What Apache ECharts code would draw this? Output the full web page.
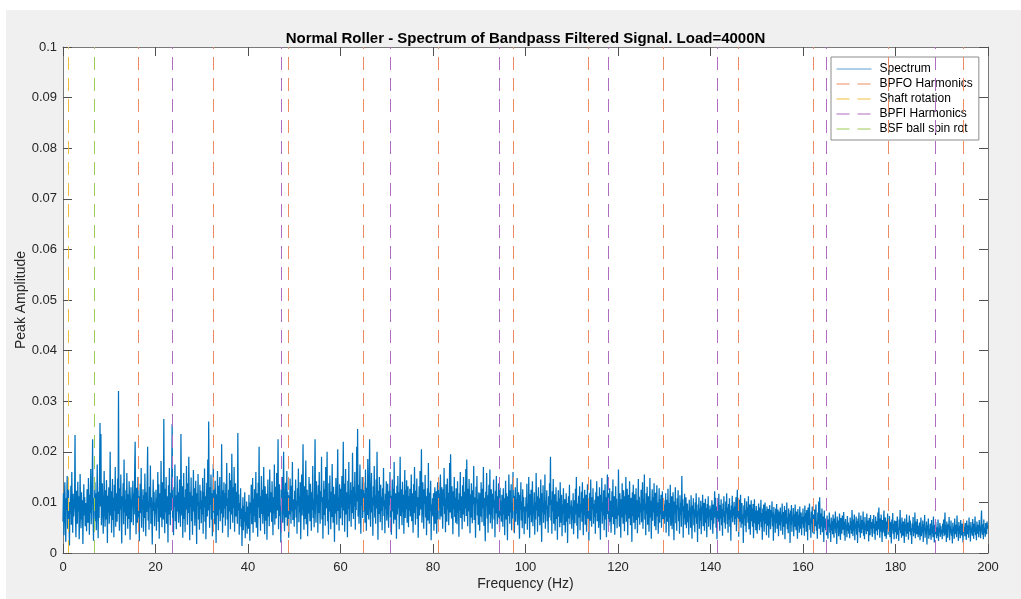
<!DOCTYPE html>
<html>
<head>
<meta charset="utf-8">
<script src="https://cdn.jsdelivr.net/npm/echarts@6/dist/echarts.min.js"></script>
<style>
  html, body { margin: 0; padding: 0; background: #ffffff; }
  #fig { position: absolute; left: 6px; top: 10px; width: 1015px; height: 589px; }
</style>
</head>
<body>
<div id="fig"></div>
<script>
// Frequency resolution of the spectrum (Hz per bin); bin k sits at k * FREQ_STEP_HZ
const FREQ_STEP_HZ = 0.1;

// Peak amplitude per bin, in units of 1e-4 (one row = 5 Hz)
const amplitudeE4 = [
  62, 118, 35, 96, 140, 71, 22, 108, 85, 152, 48, 90, 127, 64, 15, 101, 78, 133, 56, 160, 94, 40, 117, 72, 88, 105, 233, 67, 31, 123, 98, 58, 141, 82, 112, 27, 76, 156, 93, 49, 120, 66, 104, 18, 87, 136, 74, 110, 53, 99,
  81, 43, 126, 92, 60, 148, 103, 36, 115, 79, 166, 57, 95, 132, 225, 70, 24, 108, 88, 140, 63, 118, 45, 97, 175, 84, 29, 121, 69, 150, 257, 92, 235, 55, 110, 138, 76, 38, 101, 162, 87, 52, 124, 66, 144, 95, 20, 113, 80, 130,
  58, 97, 200, 74, 122, 40, 88, 146, 65, 109, 31, 135, 83, 170, 52, 118, 91, 62, 147, 77, 320, 99, 44, 128, 86, 155, 68, 19, 112, 94, 138, 57, 185, 80, 106, 35, 124, 73, 158, 90, 48, 116, 67, 142, 101, 26, 87, 130, 61, 104,
  92, 143, 55, 118, 76, 164, 220, 85, 37, 129, 98, 60, 150, 71, 112, 23, 95, 137, 79, 168, 50, 104, 88, 126, 42, 114, 69, 157, 93, 33, 120, 81, 140, 210, 64, 102, 46, 131, 90, 173, 58, 110, 74, 17, 96, 145, 83, 121, 53, 100,
  77, 125, 44, 108, 89, 160, 62, 136, 28, 97, 118, 70, 182, 86, 51, 140, 104, 66, 265, 93, 39, 127, 80, 150, 58, 112, 95, 21, 134, 76, 168, 100, 55, 119, 84, 142, 255, 68, 108, 35, 130, 91, 175, 63, 114, 47, 98, 152, 82, 120,
  60, 102, 145, 88, 52, 235, 116, 74, 132, 30, 95, 158, 67, 110, 41, 126, 86, 172, 99, 56, 138, 79, 190, 105, 25, 120, 91, 149, 63, 113, 36, 97, 164, 82, 128, 54, 107, 143, 71, 18, 118, 93, 156, 66, 101, 46, 135, 87, 123, 59,
  104, 76, 148, 38, 121, 90, 167, 62, 112, 27, 98, 139, 72, 185, 84, 260, 108, 50, 130, 95, 155, 66, 118, 33, 102, 176, 80, 126, 57, 143, 92, 20, 116, 74, 162, 99, 45, 133, 86, 150, 63, 110, 78, 215, 96, 40, 124, 70, 140, 88,
  118, 54, 137, 93, 178, 66, 108, 31, 125, 82, 158, 101, 47, 144, 76, 196, 113, 60, 130, 89, 170, 42, 105, 138, 72, 121, 95, 58, 237, 84, 116, 36, 99, 67, 128, 52, 88, 14, 74, 110, 45, 93, 62, 120, 29, 81, 54, 102, 38, 70,
  92, 48, 115, 66, 24, 100, 78, 135, 57, 86, 148, 40, 107, 73, 126, 61, 95, 160, 50, 118, 83, 32, 139, 90, 210, 69, 112, 44, 98, 152, 77, 125, 58, 103, 170, 85, 37, 132, 94, 64, 117, 26, 88, 145, 72, 108, 53, 165, 97, 80,
  120, 62, 142, 91, 35, 110, 78, 175, 56, 131, 99, 68, 158, 84, 115, 225, 47, 104, 136, 73, 92, 21, 126, 88, 150, 60, 117, 200, 81, 43, 109, 139, 70, 95, 162, 54, 121, 86, 30, 114, 76, 147, 98, 58, 133, 82, 180, 65, 106, 90,
  52, 123, 86, 145, 70, 103, 38, 128, 94, 167, 61, 112, 80, 140, 27, 99, 155, 74, 118, 215, 89, 46, 132, 67, 108, 183, 57, 96, 125, 33, 114, 78, 150, 92, 63, 137, 101, 44, 120, 85, 172, 69, 106, 51, 130, 225, 88, 60, 142, 97,
  115, 40, 134, 79, 160, 93, 58, 122, 101, 190, 66, 110, 28, 97, 143, 75, 126, 54, 170, 88, 114, 200, 63, 105, 36, 138, 82, 153, 95, 47, 121, 71, 176, 103, 60, 131, 87, 22, 116, 78, 148, 92, 56, 128, 205, 83, 110, 44, 136, 99,
  68, 127, 90, 152, 55, 112, 220, 84, 137, 42, 104, 166, 76, 120, 95, 31, 143, 87, 180, 63, 115, 98, 140, 52, 124, 79, 198, 108, 67, 131, 92, 160, 46, 118, 85, 210, 102, 245, 72, 135, 58, 112, 175, 89, 38, 126, 94, 150, 69, 107,
  140, 82, 118, 60, 165, 97, 44, 129, 75, 186, 105, 66, 138, 225, 90, 52, 120, 158, 80, 110, 34, 132, 94, 172, 70, 114, 58, 145, 88, 200, 100, 26, 123, 77, 150, 96, 61, 135, 83, 111, 45, 128, 92, 168, 73, 104, 39, 117, 86, 142,
  64, 108, 137, 78, 50, 122, 95, 160, 70, 113, 36, 99, 145, 82, 127, 58, 180, 91, 66, 118, 104, 28, 133, 76, 152, 88, 120, 47, 109, 190, 73, 126, 94, 55, 141, 80, 115, 38, 102, 164, 69, 124, 86, 144, 60, 97, 132, 51, 112, 84,
  127, 72, 98, 155, 63, 118, 88, 40, 136, 79, 170, 101, 56, 123, 92, 147, 67, 110, 30, 95, 132, 74, 162, 86, 114, 205, 60, 104, 140, 81, 48, 126, 97, 154, 70, 112, 35, 90, 128, 64, 178, 100, 58, 119, 83, 143, 25, 96, 75, 108,
  72, 118, 44, 96, 130, 58, 85, 122, 38, 104, 140, 66, 140, 90, 117, 66, 155, 101, 72, 130, 84, 48, 126, 93, 168, 77, 108, 41, 136, 98, 62, 147, 86, 119, 55, 104, 178, 80, 195, 113, 68, 132, 95, 37, 122, 87, 150, 71, 109, 60,
  128, 91, 57, 142, 79, 105, 32, 118, 84, 160, 69, 112, 97, 47, 134, 76, 150, 101, 62, 121, 88, 166, 73, 185, 94, 53, 127, 82, 146, 108, 39, 116, 70, 138, 90, 59, 124, 96, 172, 65, 110, 83, 30, 131, 98, 152, 74, 106, 56, 120,
  85, 44, 118, 72, 140, 96, 61, 127, 88, 170, 54, 109, 80, 23, 121, 93, 158, 68, 114, 40, 101, 135, 76, 165, 59, 98, 126, 84, 48, 117, 90, 145, 66, 105, 31, 123, 78, 152, 95, 57, 112, 70, 138, 86, 46, 129, 74, 102, 62, 115,
  90, 52, 128, 76, 108, 35, 97, 143, 66, 118, 84, 25, 112, 73, 155, 94, 58, 124, 80, 136, 45, 100, 68, 160, 87, 113, 39, 95, 130, 62, 106, 78, 148, 55, 99, 120, 70, 28, 115, 85, 140, 64, 102, 49, 126, 82, 110, 37, 92, 74,
  58, 110, 82, 137, 46, 98, 70, 150, 88, 30, 116, 75, 125, 61, 104, 142, 53, 92, 78, 120, 36, 101, 66, 158, 84, 112, 42, 95, 130, 72, 108, 55, 88, 145, 67, 22, 118, 80, 134, 60, 99, 76, 155, 48, 103, 86, 124, 63, 94, 40,
  112, 70, 138, 95, 190, 64, 105, 38, 122, 82, 146, 58, 97, 116, 44, 88, 130, 67, 102, 26, 93, 124, 72, 108, 51, 140, 85, 60, 115, 33, 96, 78, 128, 55, 90, 106, 40, 83, 118, 62, 99, 20, 87, 112, 68, 135, 57, 94, 76, 104,
  48, 92, 66, 118, 37, 85, 104, 59, 127, 76, 150, 54, 98, 28, 88, 113, 70, 132, 45, 96, 80, 121, 62, 140, 87, 35, 108, 74, 125, 56, 93, 115, 42, 82, 136, 68, 101, 24, 90, 119, 64, 145, 78, 52, 110, 86, 128, 58, 97, 71,
  105, 38, 120, 79, 142, 63, 96, 112, 50, 87, 130, 69, 26, 115, 82, 148, 58, 100, 74, 124, 45, 92, 136, 66, 110, 31, 98, 155, 77, 118, 54, 89, 128, 62, 103, 40, 84, 122, 71, 145, 57, 95, 112, 36, 86, 132, 67, 107, 49, 91,
  74, 165, 88, 52, 118, 95, 30, 106, 70, 138, 84, 58, 124, 99, 43, 112, 76, 150, 62, 101, 127, 35, 90, 115, 68, 142, 81, 55, 109, 94, 22, 120, 73, 135, 60, 97, 116, 47, 86, 128, 65, 104, 39, 92, 146, 70, 111, 56, 98, 80,
  125, 61, 93, 140, 48, 107, 84, 155, 66, 98, 35, 118, 77, 131, 56, 95, 112, 42, 87, 148, 70, 103, 28, 92, 126, 64, 110, 80, 138, 53, 96, 119, 45, 85, 134, 72, 100, 38, 90, 128, 60, 106, 76, 115, 50, 94, 122, 67, 88, 104,
  58, 96, 72, 118, 40, 88, 105, 62, 127, 80, 33, 99, 70, 135, 54, 92, 112, 47, 84, 120, 66, 25, 102, 78, 130, 59, 95, 44, 108, 86, 124, 63, 90, 38, 114, 75, 100, 52, 152, 82, 106, 30, 93, 68, 117, 56, 87, 110, 49, 79,
  98, 61, 84, 36, 105, 72, 90, 50, 114, 67, 28, 94, 79, 108, 55, 86, 41, 100, 70, 118, 58, 83, 22, 96, 75, 110, 48, 88, 64, 103, 37, 92, 77, 115, 53, 81, 99, 44, 73, 107, 60, 89, 31, 97, 68, 112, 52, 85, 76, 94,
  46, 88, 65, 104, 73, 38, 96, 58, 84, 122, 70, 109, 50, 92, 27, 81, 100, 62, 117, 76, 44, 95, 68, 106, 55, 87, 34, 98, 72, 112, 60, 83, 48, 102, 78, 118, 57, 90, 40, 97, 66, 108, 52, 85, 24, 94, 70, 113, 61, 88,
  74, 101, 56, 92, 67, 110, 43, 86, 125, 70, 97, 32, 105, 62, 89, 115, 50, 80, 99, 58, 76, 20, 94, 68, 108, 54, 85, 41, 102, 73, 90, 60, 112, 47, 82, 96, 36, 71, 104, 63, 88, 52, 97, 29, 78, 106, 59, 84, 45, 93,
  66, 38, 84, 57, 98, 72, 45, 90, 62, 105, 51, 79, 26, 88, 64, 96, 42, 75, 100, 58, 83, 35, 92, 68, 54, 87, 30, 78, 95, 61, 47, 85, 70, 102, 53, 80, 24, 91, 65, 76, 40, 88, 59, 97, 48, 72, 86, 33, 68, 82,
  55, 90, 44, 76, 62, 98, 36, 81, 68, 52, 93, 27, 74, 85, 58, 100, 47, 70, 39, 88, 63, 78, 20, 84, 56, 95, 42, 72, 65, 89, 33, 77, 52, 96, 60, 45, 82, 70, 28, 87, 54, 75, 40, 92, 62, 48, 80, 35, 71, 58,
  88, 50, 72, 34, 94, 61, 79, 42, 85, 66, 25, 90, 55, 74, 98, 46, 68, 30, 82, 58, 92, 40, 76, 64, 37, 86, 53, 70, 96, 44, 62, 28, 80, 57, 102, 48, 110, 66, 36, 78, 52, 88, 41, 72, 60, 22, 84, 50, 68, 45,
  62, 35, 74, 48, 28, 66, 52, 80, 40, 58, 22, 70, 45, 63, 37, 76, 54, 30, 68, 47, 82, 39, 60, 18, 72, 50, 64, 33, 57, 78, 43, 26, 69, 52, 38, 74, 59, 46, 81, 35, 62, 24, 67, 49, 56, 31, 73, 44, 60, 38,
  55, 29, 70, 46, 62, 38, 85, 52, 33, 66, 44, 76, 25, 58, 48, 72, 36, 63, 20, 68, 50, 80, 41, 57, 30, 74, 53, 39, 65, 47, 82, 34, 60, 27, 71, 45, 56, 37, 78, 51, 43, 64, 23, 69, 54, 35, 75, 48, 61, 40,
  32, 67, 49, 75, 38, 58, 26, 72, 54, 44, 63, 35, 80, 47, 90, 57, 30, 68, 42, 76, 52, 22, 65, 40, 59, 84, 46, 33, 70, 55, 28, 62, 48, 78, 36, 56, 43, 73, 31, 61, 50, 19, 66, 45, 79, 38, 58, 27, 64, 49,
  41, 63, 28, 55, 72, 36, 50, 24, 66, 45, 85, 39, 58, 30, 70, 48, 34, 62, 52, 20, 68, 43, 57, 32, 76, 47, 38, 60, 26, 53, 74, 42, 64, 35, 49, 18, 59, 44, 71, 33, 56, 40, 80, 29, 62, 46, 37, 67, 51, 31,
  54, 36, 60, 25, 48, 70, 33, 52, 40, 64, 22, 57, 44, 75, 30, 50, 38, 62, 17, 55, 43, 68, 28, 47, 35, 58, 42, 26, 65, 39, 53, 31, 72, 46, 21, 56, 37, 61, 45, 29, 51, 34, 66, 24, 49, 41, 59, 32, 54, 38,
  46, 27, 58, 40, 66, 33, 50, 80, 36, 55, 22, 62, 44, 30, 57, 48, 71, 25, 53, 39, 64, 34, 47, 19, 60, 42, 52, 28, 68, 45, 37, 56, 31, 74, 43, 50, 24, 61, 38, 54, 29, 65, 41, 35, 58, 46, 21, 63, 40, 52,
  33, 59, 42, 26, 64, 48, 37, 55, 30, 70, 45, 53, 23, 61, 39, 50, 34, 67, 44, 28, 58, 41, 72, 35, 52, 25, 62, 47, 38, 56, 31, 65, 43, 54, 29, 60, 84, 46, 36, 57, 27, 66, 40, 50, 32, 59, 44, 37, 62, 48
];

// Characteristic defect frequencies (Hz)
const bpfoHarmonicsHz = [16.22, 32.45, 48.67, 64.9, 81.12, 97.34, 113.57, 129.79, 146.02, 162.24, 178.46, 194.69];
const shaftRotationHz = [1.08];
const bpfiHarmonicsHz = [23.57, 47.14, 70.71, 94.28, 117.85, 141.42, 164.99, 188.56];
const bsfBallSpinHz = [6.7];

// Axis ranges
const freqAxis = { min: 0, max: 200, interval: 20 };
const ampAxis = { min: 0, max: 0.1, interval: 0.01 };

const FONT = '"Liberation Sans", Arial, Helvetica, sans-serif';
const COLORS = {
  spectrum: '#0072BD',
  bpfo: '#EC8C63',
  shaft: '#F0BE3C',
  bpfi: '#B06CC0',
  bsf: '#9CCB58'
};
const DASH = [13, 8];

const spectrumData = amplitudeE4.map((v, k) => [k * FREQ_STEP_HZ, v / 1e4]);

function referenceLines(name, freqs, color) {
  return {
    type: 'line',
    name: name,
    data: [],
    symbol: 'none',
    z: 5,
    lineStyle: { color: color, width: 1, type: DASH },
    itemStyle: { color: color },
    markLine: {
      silent: true,
      symbol: ['none', 'none'],
      label: { show: false },
      emphasis: { disabled: true },
      lineStyle: { color: color, width: 1, type: DASH },
      data: freqs.map(f => ({ xAxis: f }))
    }
  };
}

function legendEntry(name, color, dashed) {
  return {
    name: name,
    itemStyle: { color: 'rgba(0,0,0,0)', borderWidth: 0, opacity: 0 },
    lineStyle: { color: color, width: 1, type: dashed ? DASH : 'solid', opacity: 1 }
  };
}

const axisLineStyle = { color: '#7a7a7a', width: 1 };
const tickStyle = { color: '#505050', width: 1 };
const labelStyle = { color: '#262626', fontSize: 13, fontFamily: FONT };

const chart = echarts.init(document.getElementById('fig'), null, { renderer: 'canvas' });
chart.setOption({
  animation: false,
  backgroundColor: '#f0f0f0',
  title: {
    text: 'Normal Roller - Spectrum of Bandpass Filtered Signal. Load=4000N',
    left: 519.5,
    top: 21,
    padding: 0,
    textAlign: 'center',
    textStyle: { fontFamily: FONT, fontSize: 15, fontWeight: 'bold', color: '#000000' }
  },
  grid: {
    left: 57, right: 33, top: 37, bottom: 46,
    outerBoundsMode: 'none',
    containLabel: false,
    show: true, backgroundColor: '#ffffff', borderWidth: 0
  },
  legend: {
    orient: 'vertical',
    left: 825,
    top: 47,
    padding: [6, 6, 5, 5],
    itemWidth: 35,
    itemHeight: 10,
    itemGap: 3,
    backgroundColor: '#ffffff',
    borderColor: '#8c8c8c',
    borderWidth: 1,
    selectedMode: false,
    textStyle: { fontFamily: FONT, fontSize: 12, color: '#000000', padding: [0, 0, 0, 3] },
    data: [
      legendEntry('Spectrum', '#5a9fd4', false),
      legendEntry('BPFO Harmonics', COLORS.bpfo, true),
      legendEntry('Shaft rotation', COLORS.shaft, true),
      legendEntry('BPFI Harmonics', COLORS.bpfi, true),
      legendEntry('BSF ball spin rot', COLORS.bsf, true)
    ]
  },
  xAxis: [
    {
      type: 'value', position: 'bottom',
      min: freqAxis.min, max: freqAxis.max, interval: freqAxis.interval,
      axisLine: { show: true, onZero: false, lineStyle: axisLineStyle },
      axisTick: { show: true, inside: true, length: 9, lineStyle: tickStyle },
      axisLabel: Object.assign({ margin: 8 }, labelStyle),
      splitLine: { show: false },
      name: 'Frequency (Hz)', nameLocation: 'middle', nameGap: 24,
      nameMoveOverlap: false,
      nameTextStyle: { fontFamily: FONT, fontSize: 14, color: '#262626' }
    },
    {
      type: 'value', position: 'top',
      min: freqAxis.min, max: freqAxis.max, interval: freqAxis.interval,
      axisLine: { show: true, onZero: false, lineStyle: axisLineStyle },
      axisTick: { show: true, inside: true, length: 9, lineStyle: tickStyle },
      axisLabel: { show: false },
      splitLine: { show: false }
    }
  ],
  yAxis: [
    {
      type: 'value', position: 'left',
      min: ampAxis.min, max: ampAxis.max, interval: ampAxis.interval,
      axisLine: { show: true, onZero: false, lineStyle: axisLineStyle },
      axisTick: { show: true, inside: true, length: 9, lineStyle: tickStyle },
      axisLabel: Object.assign({ margin: 6, formatter: v => String(Math.round(v * 100) / 100) }, labelStyle),
      splitLine: { show: false },
      name: 'Peak Amplitude', nameLocation: 'middle', nameGap: 35,
      nameMoveOverlap: false,
      nameTextStyle: { fontFamily: FONT, fontSize: 14, color: '#262626' }
    },
    {
      type: 'value', position: 'right',
      min: ampAxis.min, max: ampAxis.max, interval: ampAxis.interval,
      axisLine: { show: true, onZero: false, lineStyle: axisLineStyle },
      axisTick: { show: true, inside: true, length: 9, lineStyle: tickStyle },
      axisLabel: { show: false },
      splitLine: { show: false }
    }
  ],
  series: [
    {
      type: 'line',
      name: 'Spectrum',
      data: spectrumData,
      symbol: 'none',
      showSymbol: false,
      z: 3,
      lineStyle: { color: COLORS.spectrum, width: 1.25 },
      itemStyle: { color: COLORS.spectrum },
      emphasis: { disabled: true }
    },
    referenceLines('BPFO Harmonics', bpfoHarmonicsHz, COLORS.bpfo),
    referenceLines('Shaft rotation', shaftRotationHz, COLORS.shaft),
    referenceLines('BPFI Harmonics', bpfiHarmonicsHz, COLORS.bpfi),
    referenceLines('BSF ball spin rot', bsfBallSpinHz, COLORS.bsf)
  ]
});
</script>
</body>
</html>
